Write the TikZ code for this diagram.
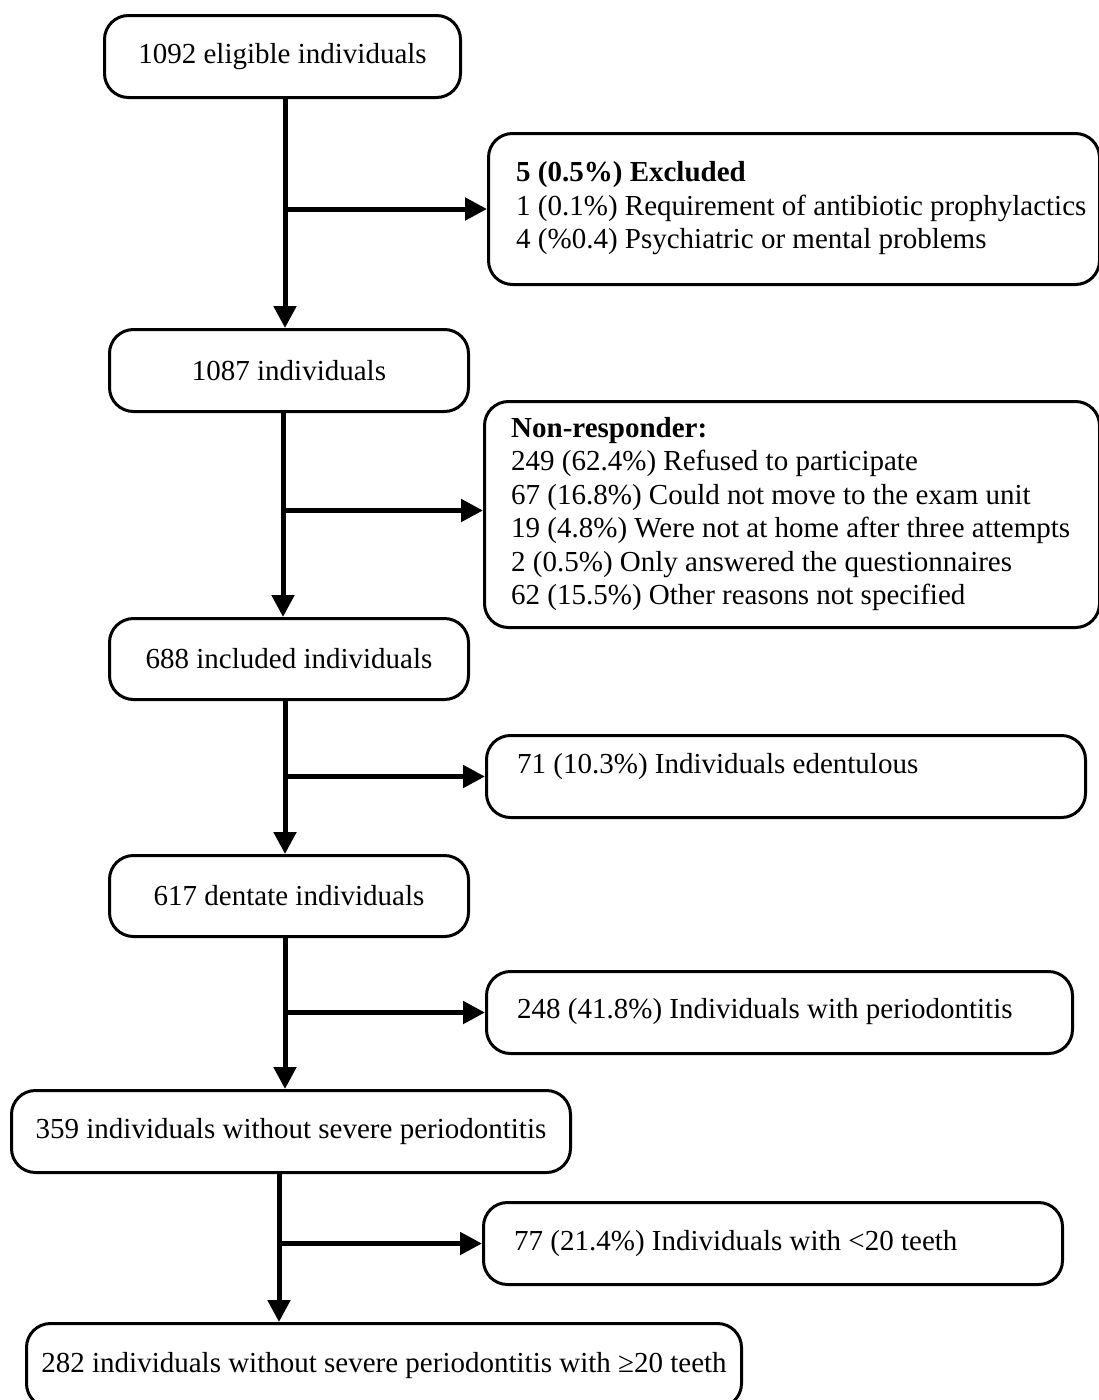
\documentclass[tikz,border=0pt]{standalone}
\usepackage{fontspec}
\setmainfont{Liberation Serif}
\usetikzlibrary{arrows.meta}
\begin{document}
\begin{tikzpicture}[x=1pt,y=-1pt,
  box/.style={draw, line width=3pt, rounded corners=24pt, inner sep=0pt, anchor=north west, font=\fontsize{29}{33.5}\selectfont},
  txt/.style={inner sep=0pt, anchor=west, align=left, font=\fontsize{29}{33.5}\selectfont},
  arr/.style={line width=5pt, -{Triangle[length=22pt,width=22pt]}}]
\useasboundingbox (0,0) rectangle (1098,1400);

\node[box, minimum width=356pt, minimum height=82pt] (n1) at (103,14) {1092 eligible individuals};
\node[box, minimum width=611pt, minimum height=151pt] (e1) at (487,132) {};
\node[txt] (e1t) at (516,208.5) {\textbf{5 (0.5\%) Excluded}\\1 (0.1\%) Requirement of antibiotic prophylactics\\4 (\%0.4) Psychiatric or mental problems};
\node[box, minimum width=359pt, minimum height=82pt] (n2) at (108,328) {1087 individuals};
\node[box, minimum width=615pt, minimum height=226pt] (e2) at (483,400) {};
\node[txt] (e2t) at (511,514) {\textbf{Non-responder:}\\249 (62.4\%) Refused to participate\\67 (16.8\%) Could not move to the exam unit\\19 (4.8\%) Were not at home after three attempts\\2 (0.5\%) Only answered the questionnaires\\62 (15.5\%) Other reasons not specified};
\node[box, minimum width=359pt, minimum height=81pt] (n3) at (108,617) {688 included individuals};
\node[box, minimum width=599pt, minimum height=82pt] (e3) at (485,734) {};
\node[txt] (e3t) at (517,767) {71 (10.3\%) Individuals edentulous};
\node[box, minimum width=359pt, minimum height=81pt] (n4) at (108,854) {617 dentate individuals};
\node[box, minimum width=586pt, minimum height=82pt] (e4) at (485,970) {};
\node[txt] (e4t) at (517,1012) {248 (41.8\%) Individuals with periodontitis};
\node[box, minimum width=559pt, minimum height=82pt] (n5) at (10,1089) {359 individuals without severe periodontitis};
\node[box, minimum width=579pt, minimum height=82pt] (e5) at (482,1201) {};
\node[txt] (e5t) at (514,1244) {77 (21.4\%) Individuals with <20 teeth};
\node[box, minimum width=715pt, minimum height=84pt] (n6) at (25,1322) {282 individuals without severe periodontitis with ≥20 teeth};

\coordinate (k1) at (285,0);
\coordinate (k2) at (283,0);
\coordinate (k3) at (285,0);
\coordinate (k4) at (285,0);
\coordinate (k5) at (279,0);

\draw[arr] (n1.south -| k1) -- (n2.north -| k1);
\draw[arr] (k1 |- e1.west) -- (e1.west);
\draw[arr] (n2.south -| k2) -- (n3.north -| k2);
\draw[arr] ([yshift=4pt]k2 |- e2.west) -- ([yshift=4pt]e2.west);
\draw[arr] (n3.south -| k3) -- (n4.north -| k3);
\draw[arr] (k3 |- e3.west) -- (e3.west);
\draw[arr] (n4.south -| k4) -- (n5.north -| k4);
\draw[arr] (k4 |- e4.west) -- (e4.west);
\draw[arr] (n5.south -| k5) -- (n6.north -| k5);
\draw[arr] (k5 |- e5.west) -- (e5.west);
\end{tikzpicture}
\end{document}
